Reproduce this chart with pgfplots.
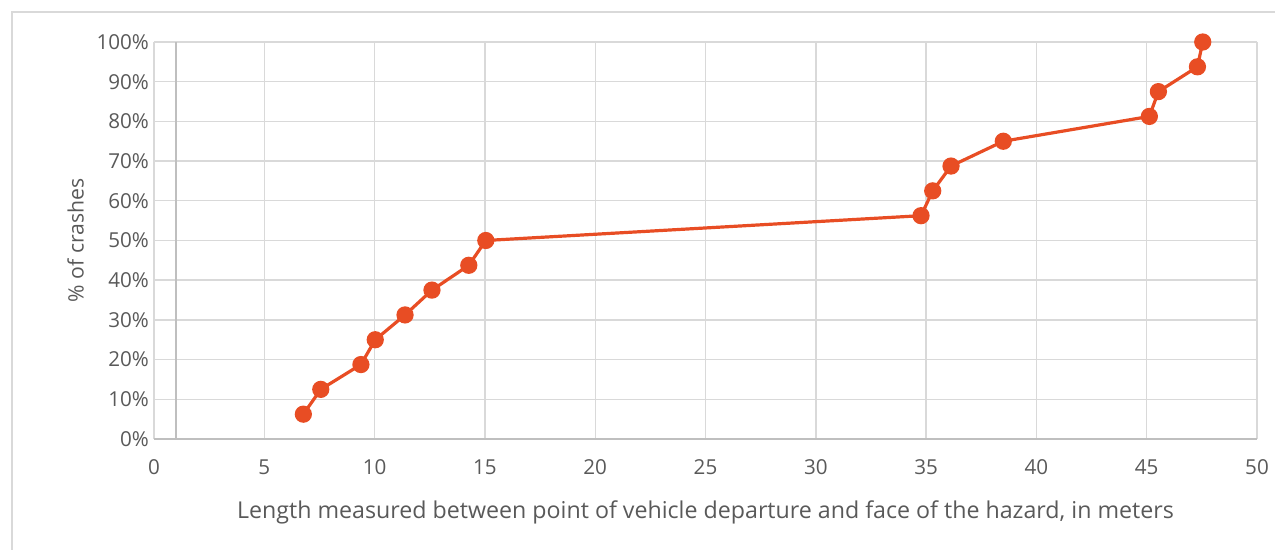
\documentclass[border=0pt]{standalone}
\usepackage{fontspec}
\setmainfont{Open Sans}
\usepackage{pgfplots}
\pgfplotsset{compat=1.18}
\definecolor{series}{RGB}{232,77,36}
\definecolor{gridc}{RGB}{217,217,217}
\definecolor{axisc}{RGB}{191,191,191}
\definecolor{textc}{RGB}{89,89,89}

\begin{document}
\begin{tikzpicture}
% 1px = 0.5pt, image 1275x550 px
\path[use as bounding box] (0,0) rectangle (637.5pt,275pt);
\draw[gridc, line width=0.6pt] (6pt,0pt) -- (6pt,269pt) -- (637.5pt,269pt);
\begin{axis}[
  at={(77pt,55.5pt)}, anchor=south west,
  scale only axis,
  width=551.5pt, height=198.5pt,
  xmin=0, xmax=50, ymin=0, ymax=100,
  xtick={0,5,...,50}, ytick={0,10,...,100},
  grid=major,
  major grid style={gridc, line width=0.7pt},
  axis line style={draw=none},
  major tick length=0pt,
  tick label style={font=\fontsize{10.3}{12}\selectfont, text=textc},
  /pgf/number format/assume math mode=true,
  yticklabel={\pgfmathprintnumber{\tick}\%},
  yticklabel style={xshift=1pt},
  xticklabel style={yshift=-7pt},
  xlabel={Length measured between point of vehicle departure and face of the hazard, in meters},
  ylabel={\% of crashes},
  xlabel style={font=\fontsize{11.6}{13}\selectfont, text=textc, yshift=-6pt},
  ylabel style={font=\fontsize{10.6}{13}\selectfont, text=textc, yshift=-0.5pt},
  clip=false,
]
\addplot[axisc, line width=0.8pt, forget plot] coordinates {(0,0) (50,0)};
\addplot[axisc, line width=0.8pt, forget plot] coordinates {(1,0) (1,100)};
\addplot[series, line width=1.6pt, mark=*, mark size=3.5pt, mark options={fill=series, draw=series}]
  table[row sep=crcr]{%
6.77 6.25\\
7.56 12.5\\
9.38 18.75\\
10.03 25\\
11.38 31.25\\
12.6 37.5\\
14.27 43.75\\
15.04 50\\
34.77 56.25\\
35.3 62.5\\
36.13 68.75\\
38.5 75\\
45.12 81.25\\
45.53 87.5\\
47.3 93.75\\
47.54 100\\
};
\end{axis}
\end{tikzpicture}
\end{document}
